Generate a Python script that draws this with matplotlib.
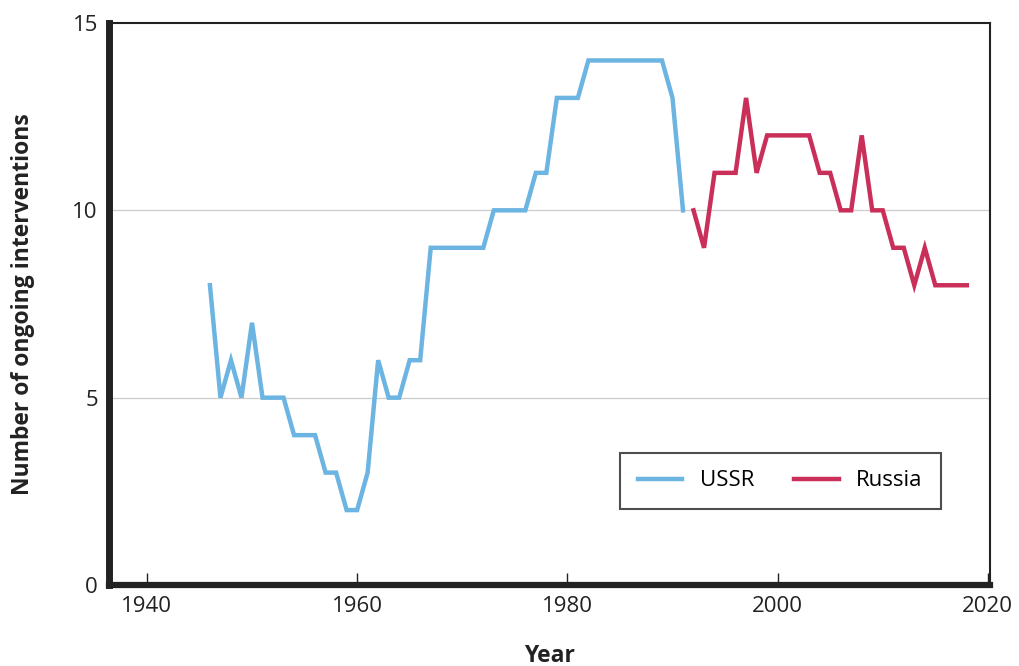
import matplotlib
matplotlib.use('Agg')
import matplotlib.pyplot as plt

plt.rcParams['font.family'] = ['Open Sans', 'DejaVu Sans']

# USSR, 1946-1991
ussr_years = list(range(1946, 1992))
ussr_values = [8, 5, 6, 5, 7, 5, 5, 5, 4, 4, 4, 3, 3, 2, 2, 3, 6, 5, 5, 6,
               6, 9, 9, 9, 9, 9, 9, 10, 10, 10, 10, 11, 11, 13, 13, 13, 14, 14,
               14, 14, 14, 14, 14, 14, 13, 10]

# Russia, 1992-2018
russia_years = list(range(1992, 2019))
russia_values = [10, 9, 11, 11, 11, 13, 11, 12, 12, 12, 12, 12, 11, 11, 10, 10,
                 12, 10, 10, 9, 9, 8, 9, 8, 8, 8, 8]

x_ticks = [1940, 1960, 1980, 2000, 2020]
y_ticks = [0, 5, 10, 15]

fig = plt.figure(figsize=(10.19, 6.66), dpi=100)
ax = fig.add_axes([0.107, 0.1216, 0.8645, 0.8439])

ax.plot(ussr_years, ussr_values, color='#6cb4e1', lw=3.2, label='USSR', solid_joinstyle='miter')
ax.plot(russia_years, russia_values, color='#c92f59', lw=3.2, label='Russia', solid_joinstyle='miter')

ax.set_xlim(1936.4, 2020.2)
ax.set_ylim(0, 15)
ax.set_xticks(x_ticks)
ax.set_yticks(y_ticks)

for y in [5, 10]:
    ax.axhline(y, color='#cccccc', lw=0.9, zorder=0)

ax.tick_params(axis='x', direction='in', length=9, width=1, labelsize=16, pad=8, colors='#222222')
ax.tick_params(axis='y', length=0, labelsize=16, pad=8, colors='#222222')

ax.spines['left'].set_linewidth(5)
ax.spines['bottom'].set_linewidth(4.5)
ax.spines['top'].set_linewidth(1.5)
ax.spines['right'].set_linewidth(1.5)
for s in ax.spines.values():
    s.set_color('#222222')

ax.set_xlabel('Year', fontsize=16.5, fontweight='bold', labelpad=19, color='#222222')
ax.set_ylabel('Number of ongoing interventions', fontsize=16.5, fontweight='bold', labelpad=27, color='#222222')

leg = ax.legend(loc='lower right', bbox_to_anchor=(0.944, 0.135), ncol=2, fontsize=16,
                frameon=True, fancybox=False, edgecolor='#222222', handlelength=2.0,
                columnspacing=1.8, borderpad=0.8, handletextpad=0.8, borderaxespad=0)
leg.get_frame().set_linewidth(1.5)

fig.savefig('out.png', dpi=100)
